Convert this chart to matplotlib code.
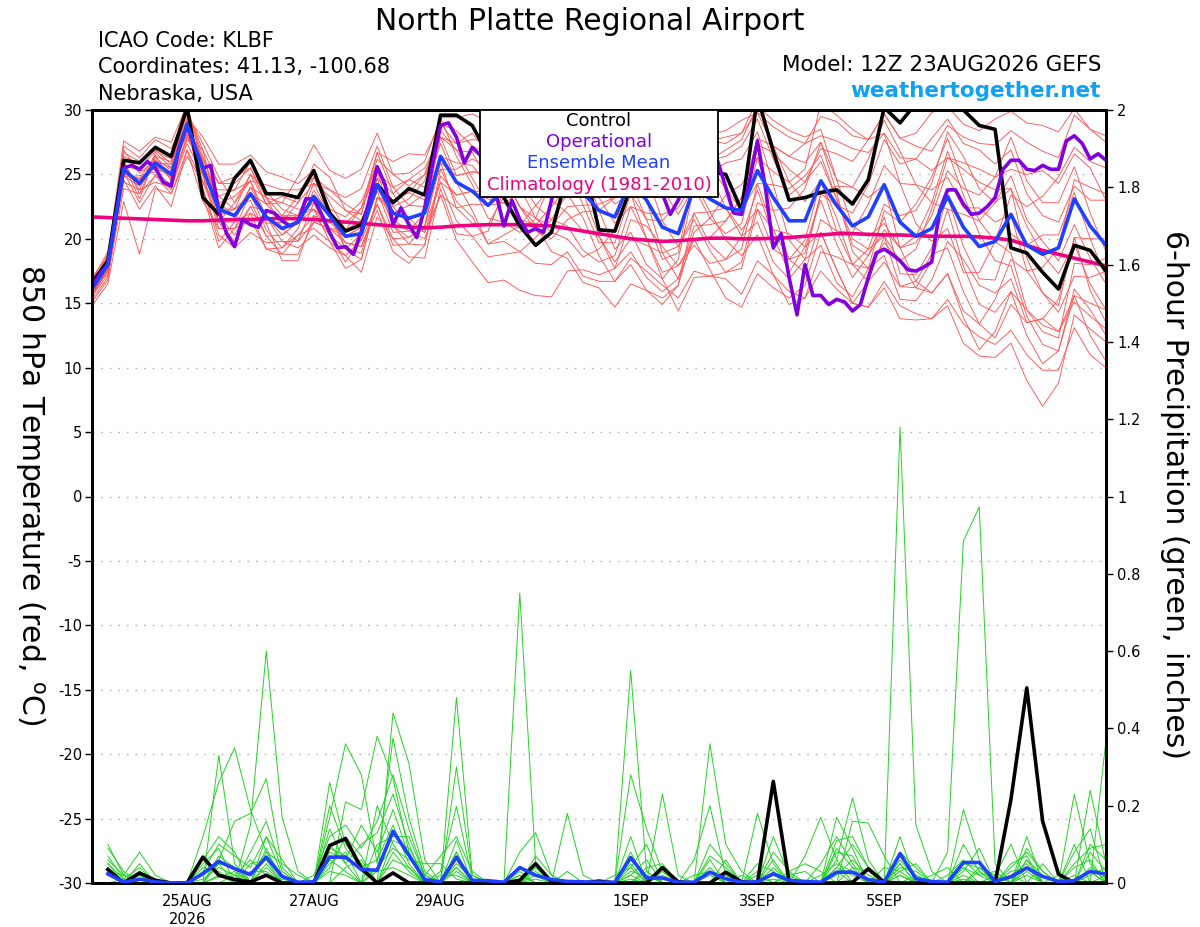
import numpy as np
import matplotlib
matplotlib.use('Agg')
import matplotlib.pyplot as plt
from matplotlib.patches import Rectangle

plt.rcParams['font.family'] = ['DejaVu Sans']

# ---------------- data (6-hourly steps from 12Z 23AUG2026) ----------------
control_t = [16.6, 18.3, 26.1, 25.9, 27.1, 26.4, 30.2, 23.2, 21.9, 24.7,
             26.1, 23.5, 23.5, 23.2, 25.3, 22.0, 20.6, 21.1, 24.2, 22.8,
             23.9, 23.4, 29.6, 29.6, 28.8, 26.5, 23.2, 21.0, 19.5, 20.5,
             25.0, 26.0, 20.7, 20.6, 24.0, 25.5, 24.0, 26.0, 24.5, 25.2,
             25.0, 22.2, 31.0, 26.8, 23.0, 23.2, 23.6, 23.8, 22.7, 24.6,
             30.2, 29.0, 30.5, 31.0, 31.0, 30.0, 28.8, 28.5, 19.3, 18.9,
             17.4, 16.1, 19.5, 19.1, 17.5]

mean_t = [16.1, 18.0, 25.4, 24.3, 25.9, 25.0, 28.9, 25.4, 22.3, 21.8,
          23.5, 21.7, 20.8, 21.3, 23.3, 21.8, 20.2, 20.4, 24.2, 22.0,
          21.6, 22.0, 26.4, 24.4, 23.7, 22.6, 23.8, 23.5, 23.6, 24.0,
          24.5, 23.6, 22.2, 21.7, 24.5, 23.0, 20.9, 20.4, 24.0, 23.1,
          22.4, 22.2, 25.3, 23.2, 21.4, 21.4, 24.5, 22.6, 21.0, 21.7,
          24.2, 21.3, 20.2, 20.8, 23.3, 20.9, 19.4, 19.8, 21.9, 19.5,
          18.8, 19.3, 23.1, 21.0, 19.5]

clim_t = [21.7, 21.65, 21.6, 21.55, 21.5, 21.45, 21.4, 21.4, 21.45, 21.5,
          21.5, 21.55, 21.6, 21.55, 21.5, 21.4, 21.3, 21.2, 21.1, 21.0,
          20.9, 20.85, 20.9, 21.0, 21.05, 21.1, 21.1, 21.1, 21.05, 21.0,
          20.8, 20.6, 20.4, 20.2, 20.0, 19.9, 19.8, 19.85, 19.95, 20.05,
          20.05, 20.0, 20.0, 20.05, 20.1, 20.2, 20.3, 20.4, 20.4, 20.35,
          20.3, 20.3, 20.25, 20.2, 20.2, 20.2, 20.15, 20.05, 19.9, 19.5,
          19.1, 18.8, 18.5, 18.2, 17.9]

# operational run, 3-hourly
oper_t = [16.3, 17.3, 18.0, 21.7, 25.5, 25.7, 25.4, 26.0, 25.5, 24.4,
          24.1, 27.1, 28.8, 27.1, 25.5, 25.7, 22.2, 20.4, 19.4, 21.5,
          21.1, 20.9, 22.2, 22.0, 21.4, 21.0, 21.3, 23.1, 23.1, 21.9,
          20.5, 19.3, 19.4, 18.8, 20.6, 23.0, 25.6, 24.2, 21.1, 22.4,
          21.1, 20.1, 22.4, 25.8, 28.8, 29.0, 27.9, 25.9, 27.1, 26.5,
          25.0, 23.5, 21.0, 23.0, 21.5, 20.5, 20.8, 20.5, 23.0, 25.5,
          26.0, 25.0, 24.5, 26.0, 25.5, 24.0, 24.5, 26.0, 27.0, 26.0,
          25.0, 24.0, 23.5, 21.9, 23.0, 24.5, 25.5, 26.5, 27.5, 26.0,
          24.0, 22.0, 21.9, 24.5, 27.6, 24.0, 19.3, 20.4, 17.0, 14.1,
          18.0, 15.6, 15.6, 14.9, 15.3, 15.1, 14.4, 14.9, 17.0, 18.9,
          19.2, 18.8, 18.3, 17.6, 17.5, 17.8, 18.2, 22.2, 23.8, 23.8,
          22.7, 21.9, 22.0, 22.5, 23.2, 25.4, 26.1, 26.1, 25.4, 25.3,
          25.7, 25.4, 25.4, 27.6, 28.0, 27.4, 26.2, 26.6, 26.1]

members_t = [
    [16.4, 18.5, 26.4, 25.8, 27.1, 26.5, 29.7, 27.4, 24.8, 22.8, 25.0, 23.7, 22.3, 21.8, 24.8,
     23.8, 22.7, 21.9, 26.2, 25.0, 24.1, 25.0, 28.9, 28.4, 27.2, 26.6, 26.8, 28.0, 28.6, 28.0,
     27.5, 27.6, 27.2, 26.2, 28.0, 27.0, 26.4, 26.4, 29.0, 27.6, 27.4, 28.2, 29.8, 28.7, 27.9,
     27.4, 29.5, 29.1, 28.0, 27.7, 29.7, 27.8, 27.2, 26.8, 28.8, 27.9, 27.4, 27.3, 28.4, 27.5,
     26.8, 26.3, 29.6, 28.5, 27.5],
    [15.6, 17.7, 24.4, 23.8, 24.4, 24.0, 27.4, 24.9, 21.3, 19.8, 22.0, 19.2, 18.8, 20.3, 20.8,
     19.8, 18.7, 17.4, 21.7, 20.0, 18.6, 18.5, 23.9, 20.4, 20.2, 18.6, 18.8, 19.0, 18.1, 18.0,
     19.0, 17.1, 16.7, 16.7, 18.5, 17.5, 16.4, 15.4, 17.5, 17.1, 16.9, 15.7, 18.3, 17.2, 15.9,
     15.4, 17.5, 16.1, 15.0, 14.7, 16.7, 14.8, 14.2, 13.8, 15.3, 13.4, 12.4, 11.8, 12.9, 11.0,
     9.8, 9.8, 13.1, 11.0, 10.0],
    [16.3, 18.6, 25.9, 23.8, 26.7, 25.5, 28.1, 26.9, 21.8, 20.3, 22.5, 22.2, 21.8, 23.3, 24.8,
     22.3, 19.2, 18.4, 23.2, 22.5, 23.1, 24.5, 29.4, 26.4, 24.2, 21.6, 21.3, 20.5, 21.6, 24.5,
     26.5, 27.1, 26.2, 24.7, 26.5, 23.0, 18.9, 16.9, 20.0, 20.1, 21.4, 23.2, 27.8, 27.2, 26.4,
     25.9, 27.5, 23.6, 19.0, 17.7, 19.7, 18.3, 19.2, 22.3, 26.3, 25.4, 24.4, 23.8, 23.9, 18.5,
     15.8, 14.3, 17.1, 17.0, 17.5],
    [15.9, 17.5, 25.7, 25.3, 25.4, 25.0, 28.4, 24.4, 23.8, 23.8, 26.0, 23.2, 20.8, 19.8, 21.3,
     20.8, 20.7, 22.4, 26.7, 23.5, 21.6, 20.5, 24.4, 21.4, 20.2, 20.6, 23.8, 25.0, 26.6, 28.0,
     28.0, 25.6, 22.2, 19.2, 20.5, 18.0, 16.9, 18.4, 24.0, 25.1, 25.9, 26.2, 28.3, 24.2, 19.9,
     18.4, 19.5, 16.6, 15.5, 17.7, 22.2, 21.3, 22.7, 24.8, 27.8, 24.4, 21.4, 19.8, 18.9, 14.5,
     12.8, 12.3, 18.1, 18.0, 18.5],
    [16.7, 18.2, 25.0, 24.7, 26.4, 26.0, 29.2, 23.4, 19.3, 20.8, 23.5, 22.7, 23.3, 22.8, 24.3,
     23.3, 22.2, 21.4, 24.2, 21.0, 19.6, 19.5, 25.4, 25.4, 26.2, 25.6, 25.8, 24.0, 21.6, 20.5,
     20.0, 18.6, 19.2, 20.7, 26.0, 26.0, 24.9, 25.4, 28.0, 25.1, 22.4, 20.2, 21.3, 18.2, 16.9,
     18.4, 23.5, 24.1, 24.0, 26.2, 29.2, 26.8, 24.2, 22.8, 22.3, 17.9, 14.9, 14.3, 15.9, 12.5,
     10.3, 11.3, 16.1, 14.5, 12.5],
    [15.3, 17.0, 23.9, 23.5, 24.9, 23.5, 26.9, 24.4, 22.3, 22.3, 23.5, 20.7, 19.3, 20.8, 23.8,
     21.8, 19.7, 19.4, 22.2, 19.0, 18.1, 19.5, 24.9, 23.4, 23.7, 23.6, 25.8, 26.0, 24.6, 23.0,
     22.0, 20.6, 20.2, 18.2, 20.0, 19.5, 18.9, 19.4, 21.5, 19.1, 17.4, 17.7, 22.3, 20.7, 20.4,
     19.4, 20.5, 17.6, 15.0, 14.7, 16.2, 13.8, 13.7, 13.8, 14.8, 11.9, 10.9, 10.8, 11.9, 9.0,
     7.0, 8.8, 14.1, 13.0, 12.0],
    [16.5, 18.8, 26.9, 25.1, 26.1, 25.5, 29.9, 25.9, 21.3, 21.3, 22.0, 21.2, 21.3, 21.8, 22.8,
     20.3, 18.2, 19.9, 25.2, 24.0, 24.6, 24.0, 27.4, 24.4, 22.2, 19.6, 19.8, 19.0, 20.1, 21.5,
     23.5, 24.6, 24.7, 25.2, 28.5, 28.0, 26.9, 25.9, 28.0, 25.6, 23.9, 22.2, 24.3, 20.7, 18.4,
     18.9, 23.5, 22.6, 22.0, 24.2, 27.7, 25.8, 26.2, 27.8, 29.3, 27.4, 26.9, 25.8, 26.9, 23.5,
     21.8, 21.3, 24.1, 23.0, 23.0],
    [15.7, 17.8, 25.8, 23.1, 26.5, 24.5, 27.9, 25.9, 22.8, 23.3, 24.5, 24.2, 23.8, 23.8, 24.3,
     21.8, 19.2, 18.9, 23.2, 22.0, 22.6, 22.5, 25.9, 22.4, 21.2, 21.1, 23.3, 24.5, 26.1, 27.0,
     26.5, 23.6, 20.2, 17.7, 19.0, 17.0, 15.9, 16.9, 21.0, 21.1, 21.4, 23.2, 27.3, 26.7, 25.4,
     24.4, 26.0, 23.1, 20.0, 19.2, 20.2, 16.3, 16.2, 18.3, 22.3, 21.9, 21.4, 22.8, 23.9, 21.0,
     18.8, 17.3, 19.6, 16.5, 14.5],
    [16.2, 18.3, 27.2, 26.3, 27.7, 27.0, 29.9, 26.9, 24.3, 24.8, 25.5, 22.7, 21.3, 22.8, 25.8,
     24.8, 22.2, 21.9, 26.7, 26.0, 26.6, 26.5, 28.9, 27.4, 27.7, 27.6, 27.8, 27.0, 25.6, 25.0,
     26.0, 26.1, 25.2, 23.7, 26.0, 25.0, 23.9, 23.9, 26.5, 26.1, 26.4, 27.2, 29.3, 26.2, 23.4,
     24.4, 27.0, 26.6, 26.0, 27.7, 29.7, 27.8, 28.2, 29.8, 30.3, 28.9, 28.4, 29.3, 29.9, 29.0,
     28.8, 28.3, 30.1, 28.5, 28.0],
    [15.8, 17.4, 24.6, 22.3, 24.1, 22.5, 26.9, 22.9, 20.8, 20.8, 21.5, 19.2, 19.3, 20.3, 21.8,
     21.3, 21.2, 22.4, 25.2, 21.5, 20.6, 22.0, 27.9, 27.4, 28.2, 26.6, 26.3, 24.5, 22.6, 21.5,
     21.0, 19.1, 18.2, 18.7, 22.5, 22.0, 21.9, 22.4, 24.5, 22.1, 19.9, 18.7, 20.3, 17.2, 14.9,
     15.4, 19.0, 18.6, 18.0, 17.7, 18.7, 15.3, 15.2, 16.8, 19.8, 18.4, 16.4, 15.8, 16.9, 13.5,
     13.8, 15.3, 20.1, 16.0, 13.5],
    [16.8, 19.0, 26.2, 25.5, 26.8, 26.2, 29.4, 27.9, 25.8, 25.8, 26.5, 25.2, 24.8, 24.3, 25.3,
     22.8, 20.7, 21.4, 24.7, 21.0, 20.1, 21.0, 26.4, 25.9, 25.7, 24.1, 24.8, 22.5, 21.6, 21.0,
     22.5, 22.6, 22.7, 23.2, 24.5, 21.5, 18.4, 18.9, 25.0, 26.1, 26.9, 27.7, 30.3, 29.2, 28.4,
     27.9, 28.5, 24.6, 21.0, 20.2, 21.2, 19.3, 19.7, 21.8, 25.3, 23.9, 23.4, 24.8, 27.9, 24.5,
     22.8, 22.8, 25.6, 22.0, 19.0],
    [15.1, 16.8, 24.9, 24.1, 25.6, 24.8, 29.1, 23.9, 20.3, 19.3, 20.5, 19.7, 19.8, 19.3, 20.3,
     19.3, 18.7, 19.9, 22.7, 19.5, 19.6, 21.0, 25.9, 24.9, 25.2, 25.1, 27.3, 28.5, 29.6, 29.0,
     28.5, 26.6, 24.2, 22.7, 23.5, 20.0, 16.9, 14.4, 17.0, 17.1, 17.4, 18.2, 22.8, 22.2, 22.4,
     23.9, 27.5, 24.6, 24.0, 23.2, 24.2, 19.3, 16.7, 15.8, 17.3, 14.4, 13.4, 15.3, 18.4, 17.5,
     17.8, 19.3, 24.6, 24.0, 23.5],
    [16.6, 17.9, 25.2, 24.6, 25.9, 25.8, 30.1, 26.4, 22.8, 21.8, 24.0, 21.7, 20.3, 21.3, 24.3,
     23.8, 23.2, 23.9, 27.2, 24.0, 22.6, 23.5, 28.4, 26.9, 24.7, 22.6, 22.8, 23.5, 25.1, 26.5,
     28.5, 28.6, 28.2, 28.2, 29.5, 27.0, 23.9, 21.9, 24.0, 21.6, 20.4, 21.2, 26.3, 25.2, 24.4,
     25.4, 30.5, 29.6, 28.5, 27.7, 28.2, 24.3, 21.2, 19.8, 20.8, 17.4, 17.4, 19.8, 23.4, 22.5,
     23.3, 24.8, 27.1, 26.0, 25.5],
    [15.5, 17.6, 24.8, 24.9, 25.2, 24.2, 27.7, 26.2, 23.3, 22.3, 23.0, 20.2, 18.8, 18.8, 21.3,
     20.8, 20.2, 20.9, 23.7, 23.0, 23.6, 23.0, 25.4, 22.9, 21.7, 19.6, 20.3, 21.0, 22.6, 24.0,
     23.5, 21.6, 18.7, 16.7, 18.0, 16.0, 14.9, 16.4, 22.0, 22.1, 22.4, 20.7, 22.3, 19.2, 18.4,
     19.9, 24.5, 21.6, 18.0, 16.7, 18.2, 16.3, 16.7, 18.8, 19.3, 15.9, 13.4, 12.3, 14.9, 13.5,
     13.8, 12.8, 15.6, 15.0, 14.5],
    [14.8, 16.5, 22.9, 18.8, 23.9, 23.5, 26.4, 24.4, 21.3, 22.8, 24.5, 21.2, 18.3, 18.3, 21.8,
     20.3, 19.2, 20.4, 23.7, 20.5, 20.6, 20.0, 23.4, 19.9, 18.2, 16.6, 16.8, 16.0, 15.6, 15.5,
     17.5, 17.6, 17.2, 17.7, 21.5, 21.0, 19.4, 17.9, 20.0, 17.6, 15.4, 14.7, 17.3, 16.2, 15.4,
     16.4, 20.5, 17.6, 15.0, 16.7, 20.2, 18.3, 16.2, 15.8, 17.3, 13.9, 11.4, 12.8, 15.9, 14.5,
     13.3, 12.8, 15.1, 14.0, 13.0],
    [17.0, 18.7, 27.6, 26.8, 27.9, 27.5, 30.4, 25.9, 21.8, 22.3, 25.0, 22.7, 22.8, 24.8, 27.3,
     25.3, 24.7, 25.4, 28.2, 25.0, 25.1, 26.0, 29.4, 29.4, 29.7, 29.1, 28.8, 27.5, 28.1, 29.5,
     29.5, 29.6, 29.2, 29.2, 29.5, 29.5, 28.4, 28.4, 30.0, 28.1, 28.4, 29.2, 29.8, 27.2, 26.4,
     27.4, 28.0, 27.6, 27.0, 26.7, 28.2, 26.3, 26.2, 25.3, 26.3, 25.9, 25.4, 24.8, 25.4, 25.0,
     25.3, 24.3, 26.6, 25.5, 23.0],
    [16.3, 18.4, 25.1, 24.6, 25.7, 24.7, 28.4, 25.7, 23.3, 23.8, 24.5, 21.7, 19.8, 19.8, 22.8,
     22.3, 21.7, 22.9, 25.7, 22.5, 21.1, 20.5, 23.4, 22.4, 22.7, 22.6, 24.8, 22.5, 20.6, 20.0,
     21.5, 22.1, 22.2, 23.2, 27.5, 25.0, 21.4, 19.4, 22.0, 19.6, 18.4, 19.2, 24.3, 24.2, 23.9,
     24.9, 26.5, 23.1, 19.5, 18.7, 20.7, 19.3, 20.2, 22.8, 26.8, 23.4, 20.4, 18.3, 17.9, 14.0,
     11.8, 11.3, 15.6, 12.5, 10.5],
    [15.9, 18.1, 26.1, 23.5, 26.3, 25.3, 28.6, 23.9, 19.8, 21.3, 24.0, 23.2, 22.8, 22.3, 22.3,
     19.8, 17.7, 18.4, 23.2, 23.0, 23.6, 25.0, 27.9, 24.9, 25.2, 25.1, 24.8, 22.5, 21.1, 19.0,
     18.5, 16.6, 16.2, 14.7, 16.5, 16.0, 15.4, 16.4, 20.5, 21.6, 23.4, 24.2, 26.3, 22.2, 18.4,
     17.4, 21.5, 20.6, 20.5, 22.7, 25.7, 24.3, 24.2, 23.8, 24.8, 22.4, 22.4, 21.3, 21.9, 17.5,
     15.8, 14.8, 20.1, 20.0, 20.0],
    [16.4, 18.2, 26.7, 26.0, 26.9, 25.8, 28.9, 26.2, 24.3, 24.3, 25.5, 23.2, 21.8, 21.8, 22.3,
     21.3, 20.2, 20.9, 24.7, 23.5, 24.6, 25.5, 27.9, 26.9, 26.7, 24.6, 26.3, 26.5, 27.6, 26.0,
     25.5, 22.6, 19.7, 19.7, 23.5, 21.5, 21.4, 22.9, 27.5, 27.6, 27.9, 28.2, 30.8, 27.2, 24.4,
     22.9, 24.5, 20.6, 18.0, 19.2, 22.7, 21.8, 22.2, 24.3, 28.3, 26.4, 23.9, 22.8, 24.9, 21.5,
     19.8, 18.3, 21.1, 18.5, 16.5],
    [15.6, 17.2, 25.2, 22.8, 25.0, 23.8, 28.1, 24.9, 20.8, 20.8, 22.5, 20.2, 20.3, 21.3, 22.3,
     20.8, 19.7, 19.4, 22.7, 20.0, 20.1, 21.0, 24.4, 23.4, 23.7, 23.1, 22.8, 21.5, 21.1, 22.5,
     24.0, 24.6, 23.2, 21.2, 22.5, 20.0, 17.4, 17.9, 19.5, 18.1, 18.4, 20.2, 23.8, 20.2, 17.4,
     19.4, 23.0, 19.6, 17.0, 18.7, 21.7, 17.3, 17.2, 19.3, 23.3, 19.4, 16.9, 16.8, 20.4, 19.5,
     20.3, 20.3, 23.6, 20.0, 17.0],
]

# 6-hour precipitation, steps 1..64
control_p = [0.035, 0.0, 0.026, 0.007, 0.0, 0.0, 0.067, 0.02, 0.009, 0.003,
             0.02, 0.0, 0.0, 0.0, 0.097, 0.115, 0.038, 0.0, 0.026, 0.0,
             0.0, 0.0, 0.0, 0.0, 0.0, 0.0, 0.007, 0.05, 0.003, 0.0,
             0.0, 0.005, 0.0, 0.0, 0.0, 0.04, 0.003, 0.0, 0.0, 0.028,
             0.003, 0.0, 0.263, 0.004, 0.0, 0.0, 0.0, 0.002, 0.037, 0.002,
             0.0, 0.0, 0.0, 0.0, 0.0, 0.0, 0.0, 0.216, 0.505, 0.16,
             0.023, 0.0, 0.0, 0.0]

mean_p = [0.024, 0.002, 0.01, 0.003, 0.0, 0.0, 0.024, 0.056, 0.037, 0.022,
          0.067, 0.017, 0.002, 0.003, 0.067, 0.067, 0.035, 0.033, 0.134, 0.072,
          0.009, 0.003, 0.067, 0.007, 0.006, 0.002, 0.04, 0.02, 0.009, 0.004,
          0.003, 0.002, 0.002, 0.066, 0.013, 0.013, 0.002, 0.002, 0.028, 0.011,
          0.002, 0.003, 0.024, 0.007, 0.004, 0.002, 0.028, 0.028, 0.009, 0.002,
          0.076, 0.011, 0.004, 0.002, 0.053, 0.053, 0.004, 0.016, 0.039, 0.017,
          0.004, 0.006, 0.03, 0.023]

# ensemble members: {step: inches}, other steps are 0
members_p = [
    {1: 0.10, 2: 0.02, 3: 0.08, 4: 0.02, 8: 0.33, 9: 0.05, 11: 0.12, 12: 0.02, 15: 0.26,
     16: 0.10, 17: 0.05, 19: 0.44, 20: 0.31, 21: 0.06, 23: 0.08, 27: 0.02, 34: 0.08,
     36: 0.03, 39: 0.36, 40: 0.10, 41: 0.03, 47: 0.06, 48: 0.22, 49: 0.06, 51: 0.12,
     55: 0.05, 56: 0.04, 59: 0.12, 62: 0.23, 63: 0.05},
    {1: 0.07, 2: 0.01, 3: 0.04, 7: 0.12, 8: 0.26, 9: 0.35, 10: 0.19, 11: 0.08, 12: 0.02,
     15: 0.17, 16: 0.36, 17: 0.28, 18: 0.05, 19: 0.375, 20: 0.17, 21: 0.03, 23: 0.30,
     24: 0.02, 30: 0.18, 31: 0.02, 34: 0.28, 35: 0.14, 36: 0.03, 45: 0.07, 46: 0.17,
     47: 0.06, 51: 1.18, 52: 0.15, 53: 0.03, 57: 0.02, 58: 0.10, 63: 0.24, 64: 0.05},
    {1: 0.04, 3: 0.05, 7: 0.05, 8: 0.09, 10: 0.15, 11: 0.60, 12: 0.17, 13: 0.03, 16: 0.21,
     17: 0.19, 18: 0.38, 19: 0.27, 20: 0.08, 23: 0.48, 24: 0.02, 27: 0.08, 28: 0.13,
     29: 0.02, 34: 0.55, 35: 0.03, 38: 0.06, 39: 0.20, 40: 0.02, 43: 0.12, 44: 0.02,
     48: 0.16, 49: 0.155, 50: 0.07, 54: 0.08, 55: 0.885, 56: 0.973, 57: 0.05, 60: 0.05,
     64: 0.37},
    {1: 0.02, 3: 0.03, 8: 0.06, 9: 0.16, 10: 0.18, 11: 0.27, 12: 0.04, 15: 0.14, 16: 0.05,
     17: 0.10, 18: 0.13, 19: 0.23, 20: 0.10, 22: 0.03, 23: 0.198, 24: 0.01, 27: 0.75,
     28: 0.05, 30: 0.03, 34: 0.12, 36: 0.23, 37: 0.02, 42: 0.18, 43: 0.05, 47: 0.17,
     48: 0.09, 51: 0.07, 52: 0.02, 55: 0.19, 56: 0.06, 59: 0.06, 62: 0.08, 63: 0.14},
    {1: 0.05, 2: 0.01, 7: 0.03, 8: 0.10, 9: 0.07, 10: 0.04, 11: 0.12, 12: 0.06, 14: 0.02,
     15: 0.12, 16: 0.15, 17: 0.09, 18: 0.16, 19: 0.28, 20: 0.14, 21: 0.02, 23: 0.08,
     28: 0.07, 29: 0.02, 33: 0.02, 34: 0.04, 35: 0.10, 39: 0.07, 40: 0.04, 43: 0.08,
     44: 0.03, 46: 0.05, 47: 0.12, 48: 0.05, 51: 0.03, 52: 0.05, 55: 0.03, 56: 0.09,
     58: 0.04, 59: 0.08, 60: 0.03, 63: 0.08, 64: 0.03},
    {3: 0.02, 7: 0.02, 8: 0.05, 9: 0.04, 11: 0.04, 15: 0.08, 16: 0.06, 17: 0.15, 18: 0.08,
     19: 0.19, 20: 0.07, 23: 0.05, 24: 0.01, 27: 0.04, 28: 0.02, 34: 0.02, 35: 0.06,
     40: 0.03, 42: 0.05, 43: 0.03, 47: 0.09, 48: 0.04, 49: 0.03, 51: 0.05, 53: 0.02,
     54: 0.04, 58: 0.02, 59: 0.05, 61: 0.02, 63: 0.02, 64: 0.04},
    {1: 0.09, 2: 0.03, 7: 0.04, 8: 0.03, 10: 0.08, 11: 0.16, 12: 0.03, 15: 0.06, 16: 0.03,
     18: 0.10, 19: 0.12, 20: 0.12, 21: 0.02, 22: 0.07, 23: 0.12, 24: 0.03, 28: 0.03,
     34: 0.03, 35: 0.02, 39: 0.04, 41: 0.02, 44: 0.03, 45: 0.05, 46: 0.03, 48: 0.04,
     50: 0.04, 51: 0.03, 55: 0.04, 56: 0.02, 57: 0.03, 59: 0.03, 62: 0.04, 63: 0.06},
    {1: 0.03, 2: 0.02, 3: 0.02, 8: 0.07, 9: 0.04, 11: 0.08, 12: 0.05, 13: 0.02, 15: 0.20,
     16: 0.09, 17: 0.04, 18: 0.06, 19: 0.15, 20: 0.05, 23: 0.04, 28: 0.02, 34: 0.06,
     35: 0.02, 39: 0.10, 40: 0.05, 43: 0.04, 47: 0.11, 48: 0.12, 49: 0.04, 51: 0.04,
     52: 0.03, 56: 0.03, 58: 0.03, 59: 0.04, 62: 0.10, 64: 0.02},
    {2: 0.01, 7: 0.01, 8: 0.04, 9: 0.02, 11: 0.05, 16: 0.04, 17: 0.06, 19: 0.08, 20: 0.03,
     23: 0.03, 34: 0.01, 36: 0.02, 39: 0.02, 43: 0.02, 47: 0.04, 48: 0.02, 51: 0.02,
     55: 0.02, 59: 0.02, 63: 0.03},
    {1: 0.05, 8: 0.02, 10: 0.03, 11: 0.03, 15: 0.04, 16: 0.12, 17: 0.07, 19: 0.06, 20: 0.04,
     22: 0.02, 23: 0.02, 27: 0.03, 35: 0.03, 40: 0.02, 44: 0.02, 45: 0.03, 47: 0.02,
     48: 0.06, 49: 0.02, 52: 0.02, 56: 0.04, 57: 0.02, 59: 0.06, 60: 0.02, 63: 0.04,
     64: 0.02},
    {1: 0.02, 3: 0.01, 8: 0.015, 9: 0.03, 11: 0.02, 12: 0.01, 15: 0.03, 16: 0.02, 18: 0.03,
     19: 0.04, 20: 0.02, 23: 0.06, 28: 0.01, 34: 0.02, 39: 0.03, 43: 0.01, 47: 0.03,
     51: 0.02, 55: 0.01, 58: 0.02, 62: 0.02},
    {1: 0.06, 2: 0.02, 9: 0.02, 10: 0.06, 11: 0.02, 15: 0.10, 16: 0.05, 18: 0.04, 19: 0.09,
     20: 0.06, 21: 0.05, 22: 0.05, 23: 0.01, 34: 0.04, 38: 0.02, 39: 0.03, 42: 0.02,
     46: 0.02, 47: 0.05, 48: 0.03, 51: 0.06, 52: 0.01, 54: 0.02, 55: 0.06, 56: 0.02,
     59: 0.09, 60: 0.03, 63: 0.10, 64: 0.06},
    {1: 0.03, 7: 0.06, 8: 0.12, 9: 0.08, 11: 0.09, 15: 0.05, 16: 0.08, 18: 0.20, 19: 0.10,
     20: 0.04, 23: 0.11, 27: 0.02, 34: 0.05, 39: 0.06, 43: 0.06, 47: 0.08, 48: 0.07,
     51: 0.05, 55: 0.10, 56: 0.03, 59: 0.04, 63: 0.03},
    {1: 0.04, 3: 0.02, 8: 0.05, 10: 0.05, 11: 0.06, 15: 0.09, 16: 0.07, 17: 0.03, 19: 0.11,
     20: 0.09, 21: 0.02, 23: 0.04, 28: 0.04, 35: 0.04, 36: 0.05, 40: 0.06, 42: 0.03,
     47: 0.04, 48: 0.10, 49: 0.04, 51: 0.08, 52: 0.04, 55: 0.04, 58: 0.05, 59: 0.07,
     62: 0.05, 63: 0.09, 64: 0.10},
]

tick_steps = [6, 14, 22, 34, 42, 50, 58]
tick_labels = ['25AUG\n2026', '27AUG', '29AUG', '1SEP', '3SEP', '5SEP', '7SEP']
temp_ticks = list(range(-30, 31, 5))
precip_ticks = [0, 0.2, 0.4, 0.6, 0.8, 1.0, 1.2, 1.4, 1.6, 1.8, 2.0]
precip_tick_labels = ['0', '0.2', '0.4', '0.6', '0.8', '1', '1.2', '1.4', '1.6', '1.8', '2']

# ---------------- colours ----------------
C_RED = '#ff5656'
C_GREEN = '#22d422'
C_OPER = '#8000e0'
C_MEAN = '#2040ff'
C_CLIM = '#ee0080'

W, H = 1200, 927
fig = plt.figure(figsize=(W / 100, H / 100), dpi=100)
ax = fig.add_axes([92 / W, (H - 883) / H, 1014 / W, 773 / H])

x6 = np.arange(len(mean_t))
x3 = np.arange(len(oper_t)) / 2.0
xp = np.arange(1, len(control_p) + 1)

for v in range(-25, 30, 5):
    ax.axhline(v, color='#b4b4b4', lw=1.0, ls=(0, (1.2, 5)), zorder=1)

for m in members_t:
    ax.plot(x6, m, color=C_RED, lw=0.65, zorder=2)
ax.plot(x6, clim_t, color=C_CLIM, lw=2.6, zorder=3)
ax.plot(x6, control_t, color='black', lw=2.6, zorder=4)
ax.plot(x3, oper_t, color=C_OPER, lw=2.6, zorder=5)
ax.plot(x6, mean_t, color=C_MEAN, lw=2.6, zorder=6)

ax.set_xlim(0, 64)
ax.set_ylim(-30, 30)
ax.set_yticks(temp_ticks)
ax.set_yticklabels([str(t) for t in temp_ticks])
ax.set_xticks(tick_steps)
ax.set_xticklabels(tick_labels)
ax.tick_params(axis='y', direction='out', length=5, width=1, labelsize=10.5, pad=2)
ax.tick_params(axis='x', length=0, labelsize=10.5, pad=8)

ax2 = ax.twinx()
for d in members_p:
    ax2.plot(xp, [d.get(i, 0.0) for i in xp], color=C_GREEN, lw=0.7, zorder=2)
ax2.plot(xp, control_p, color='black', lw=2.6, zorder=4)
ax2.plot(xp, mean_p, color=C_MEAN, lw=2.6, zorder=5)
ax2.set_ylim(0, 2)
ax2.set_xlim(0, 64)
ax2.set_yticks(precip_ticks)
ax2.set_yticklabels(precip_tick_labels)
ax2.tick_params(axis='y', direction='out', length=5, width=1, labelsize=10.5, pad=3)

for a in (ax, ax2):
    for s in a.spines.values():
        s.set_linewidth(2.0)
        s.set_color('black')

# legend box
x0 = (480 - 92) / 1014
x1 = (718 - 92) / 1014
y0 = (883 - 197) / 773
ax2.add_patch(Rectangle((x0, y0), x1 - x0, 1 - y0, transform=ax2.transAxes,
                        facecolor='white', edgecolor='black', lw=1.3, zorder=20))
leg = [('Control', 'black', 121), ('Operational', C_OPER, 142),
       ('Ensemble Mean', C_MEAN, 163), ('Climatology (1981-2010)', C_CLIM, 185)]
for txt, col, yy in leg:
    ax2.text((x0 + x1) / 2, (883 - yy) / 773, txt, color=col, fontsize=13,
             ha='center', va='center', transform=ax2.transAxes, zorder=21)

# header texts
fig.text(590 / W, 1 - 29.5 / H, 'North Platte Regional Airport', fontsize=21.5,
         ha='center', va='baseline')
fig.text(98 / W, 1 - 47 / H, 'ICAO Code: KLBF', fontsize=15, ha='left', va='baseline')
fig.text(98 / W, 1 - 73 / H, 'Coordinates: 41.13, -100.68', fontsize=15, ha='left', va='baseline')
fig.text(98 / W, 1 - 99.5 / H, 'Nebraska, USA', fontsize=15, ha='left', va='baseline')
fig.text(1101 / W, 1 - 71 / H, 'Model: 12Z 23AUG2026 GEFS', fontsize=15.5,
         ha='right', va='baseline')
fig.text(1101 / W, 1 - 97 / H, 'weathertogether.net', fontsize=15.5, fontweight='bold',
         color='#12a0f2', ha='right', va='baseline')

fig.text(30 / W, 1 - 495 / H, '850 hPa Temperature (red, $^{\\mathrm{o}}$C)', fontsize=21.5,
         rotation=-90, ha='center', va='center')
fig.text(1175 / W, 1 - 495 / H, '6-hour Precipitation (green, inches)', fontsize=21.5,
         rotation=-90, ha='center', va='center')

fig.savefig('out.png', dpi=100)
